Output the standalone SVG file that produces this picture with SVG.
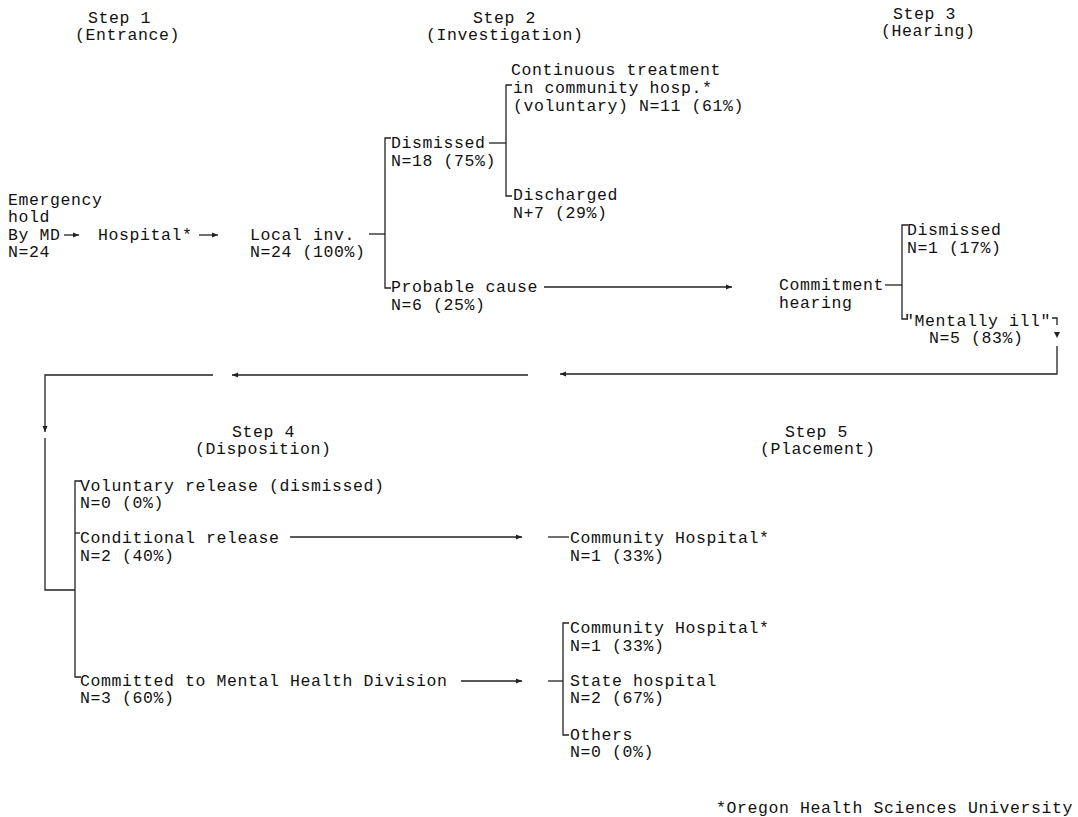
<svg xmlns="http://www.w3.org/2000/svg" width="1078" height="817" viewBox="0 0 1078 817">
<style>
text{font-family:"Liberation Mono","DejaVu Sans Mono",monospace;font-size:16.5px;letter-spacing:0.6px;fill:#111}
.c{fill:none;stroke:#222;stroke-width:1.3}
.h{fill:#222;stroke:none}
</style>
<defs>
<marker id="ar" markerUnits="userSpaceOnUse" markerWidth="7" markerHeight="6" refX="6" refY="3" orient="auto">
<path d="M0,0.5 L6,3 L0,5.5 z" fill="#222"/>
</marker>
</defs>
<rect width="1078" height="817" fill="#fff"/>
<g id="step1-title"><text x="88" y="23">Step 1</text><text x="75" y="40">(Entrance)</text></g>
<g id="step2-title"><text x="473" y="23">Step 2</text><text x="426" y="40">(Investigation)</text></g>
<g id="step3-title"><text x="893" y="19">Step 3</text><text x="881" y="36">(Hearing)</text></g>
<g id="step4-title"><text x="232" y="437">Step 4</text><text x="195" y="454">(Disposition)</text></g>
<g id="step5-title"><text x="785" y="437">Step 5</text><text x="760" y="454">(Placement)</text></g>

<g id="emergency"><text x="8" y="205">Emergency</text><text x="8" y="222">hold</text><text x="8" y="240">By MD</text><text x="8" y="257">N=24</text></g>
<g id="hospital"><text x="98" y="240">Hospital*</text></g>
<g id="local-inv"><text x="250" y="240">Local inv.</text><text x="250" y="257">N=24 (100%)</text></g>
<g id="dismissed-2"><text x="391" y="148">Dismissed</text><text x="391" y="166">N=18 (75%)</text></g>
<g id="continuous"><text x="511" y="75">Continuous treatment</text><text x="513" y="93">in community hosp.*</text><text x="513" y="111">(voluntary) N=11 (61%)</text></g>
<g id="discharged"><text x="513" y="200">Discharged</text><text x="513" y="218">N+7 (29%)</text></g>
<g id="probable"><text x="391" y="292">Probable cause</text><text x="391" y="310">N=6 (25%)</text></g>
<g id="commitment"><text x="779" y="290">Commitment</text><text x="779" y="308">hearing</text></g>
<g id="dismissed-3"><text x="907" y="235">Dismissed</text><text x="907" y="253">N=1 (17%)</text></g>
<g id="mentally-ill"><text x="904" y="326">"Mentally ill"</text><text x="929" y="343">N=5 (83%)</text></g>
<g id="voluntary"><text x="80" y="491">Voluntary release (dismissed)</text><text x="80" y="508">N=0 (0%)</text></g>
<g id="conditional"><text x="80" y="543">Conditional release</text><text x="80" y="561">N=2 (40%)</text></g>
<g id="committed"><text x="80" y="686">Committed to Mental Health Division</text><text x="80" y="703">N=3 (60%)</text></g>
<g id="community-1"><text x="570" y="543">Community Hospital*</text><text x="570" y="561">N=1 (33%)</text></g>
<g id="community-2"><text x="570" y="633">Community Hospital*</text><text x="570" y="651">N=1 (33%)</text></g>
<g id="state"><text x="570" y="686">State hospital</text><text x="570" y="703">N=2 (67%)</text></g>
<g id="others"><text x="570" y="740">Others</text><text x="570" y="757">N=0 (0%)</text></g>
<g id="footnote"><text x="716" y="813">*Oregon Health Sciences University</text></g>

<g id="connectors">
<path class="c" d="M64,235 H79" marker-end="url(#ar)"/>
<path class="c" d="M199,235 H218" marker-end="url(#ar)"/>
<path class="c" d="M369,234 H385"/>
<path class="c" d="M391,138 H385 V288 H391"/>
<path class="c" d="M489,143 H506"/>
<path class="c" d="M512,85 H506 V196 H512"/>
<path class="c" d="M544,287 H732" marker-end="url(#ar)"/>
<path class="c" d="M885,285 H902"/>
<path class="c" d="M908,225 H902 V319 H908"/>
<path class="c" d="M1052,318 H1057 V325"/>
<path class="h" d="M1054,332 L1060,332 L1057,338 z"/>
<path class="c" d="M1057,346 V374 H560" marker-end="url(#ar)"/>
<path class="c" d="M528,375 H232" marker-end="url(#ar)"/>
<path class="c" d="M213,375 H45 V432" marker-end="url(#ar)"/>
<path class="c" d="M45,438 V590 H75"/>
<path class="c" d="M81,481 H75 V677 H81"/>
<path class="c" d="M75,533 H80"/>
<path class="c" d="M290,537 H522" marker-end="url(#ar)"/>
<path class="c" d="M548,537 H569"/>
<path class="c" d="M461,681 H522" marker-end="url(#ar)"/>
<path class="c" d="M548,681 H563"/>
<path class="c" d="M569,623 H563 V735 H569"/>
</g>
</svg>
